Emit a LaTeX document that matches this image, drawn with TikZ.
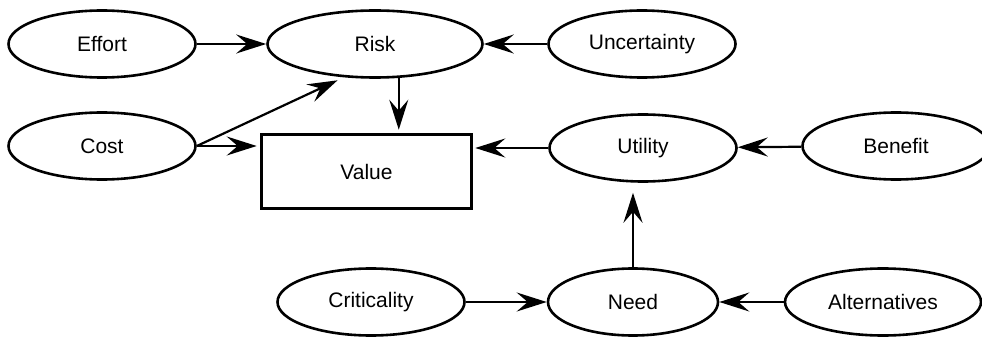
\documentclass[tikz,border=0pt]{standalone}
\usepackage{fontspec}
\setmainfont{Liberation Sans}
\usetikzlibrary{arrows.meta,shapes.geometric}

\begin{document}
\begin{tikzpicture}[x=1pt,y=-1pt,
    font=\fontsize{21}{24}\selectfont,
    factor/.style={draw,ellipse,line width=2.6pt,minimum width=187pt,minimum height=67pt,inner sep=0pt},
    link/.style={-{Stealth[length=30pt,width=19pt,inset=11pt]},line width=2.2pt}]
    \useasboundingbox (0,0) rectangle (982,339);
    % top row
    \node[factor] (effort) at (102,44) {Effort};
    \node[factor,minimum width=215pt] (risk) at (375,44) {Risk};
    \node[factor] (uncert) at (642,44) {Uncertainty};
    % middle row
    \node[factor] (cost) at (102,146) {Cost};
    \node[draw,line width=3.6pt,minimum width=210pt,minimum height=74pt,inner sep=0pt] (value) at (366.5,171.5) {Value};
    \node[factor] (utility) at (643,148) {Utility};
    \node[factor] (benefit) at (896,146) {Benefit};
    % bottom row
    \node[factor] (crit) at (371,302) {Criticality};
    \node[factor,minimum width=170pt] (need) at (633,302) {Need};
    \node[factor,minimum width=196pt] (alt) at (883,302) {Alternatives};
    % links
    \draw[link] (effort) -- (risk);
    \draw[link] (uncert) -- (risk);
    \draw[link,shorten >=7pt] (cost.east) -- (risk.227);
    \draw[link,shorten >=3pt] (cost.east) -- (cost.east -| value.west);
    \draw[link,shorten >=3pt] (risk.305) -- (risk.305 |- value.north);
    \draw[link,shorten >=2pt] (utility.west) -- (utility.west -| value.east);
    \draw[link] (benefit) -- (utility);
    \draw[link,shorten >=10pt] (need.north) -- (need.north |- utility.south);
    \draw[link] (crit) -- (need);
    \draw[link] (alt) -- (need);
\end{tikzpicture}
\end{document}
